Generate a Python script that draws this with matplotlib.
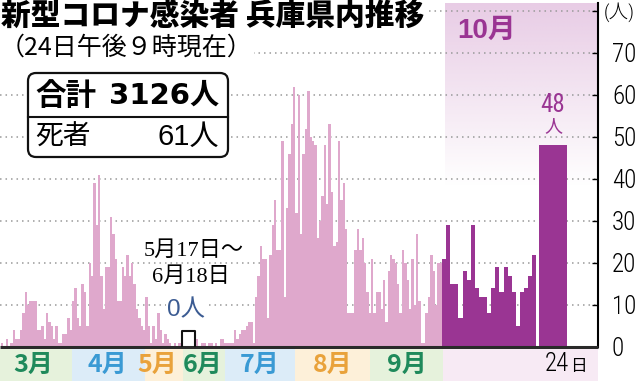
import numpy as np
import matplotlib
matplotlib.use('Agg')
import matplotlib.pyplot as plt
from matplotlib import font_manager as fm
from matplotlib.patches import Rectangle, FancyBboxPatch

# ---------------- data ----------------
# daily new cases, Mar 1 - May 16
first_wave = [1, 0, 2, 0, 1, 4, 2, 2, 4, 8, 13, 10, 11, 11, 11, 4, 4, 5, 2, 8, 6, 5, 2, 5, 1, 1, 3, 3, 7, 4, 11,
              14, 7, 5, 15, 13, 5, 20, 17, 39, 29, 41, 17, 9, 19, 19, 31, 27, 21, 11, 11, 19, 17, 22, 17, 20, 15, 9, 7, 5, 4,
              12, 5, 1, 5, 2, 8, 4, 1, 3, 2, 1, 0, 1, 0, 1, 0]
# daily new cases, Jun 19 - Sep 30  (May 17 - Jun 18: 0 cases, compressed)
second_wave = [2, 0, 1, 1, 0, 1, 1, 0, 1, 0,
               2, 2, 1, 1, 1, 1, 4, 2, 3, 4, 4, 5, 6, 6,
               1, 12, 17, 24, 21, 21, 7, 22, 29, 35, 23, 23, 49, 12, 33, 46, 53, 62, 32,
               60, 27, 46, 52, 61, 50, 49, 48, 26, 30, 36, 48, 34, 53, 37, 24, 25, 49, 35, 39, 28,
               8, 8, 8, 23, 28, 23, 26, 20, 13, 8, 21, 8, 13, 13, 9, 16, 6, 18, 22, 21, 20, 15, 8, 23, 20,
               16, 9, 21, 10, 27, 11, 1, 1, 8, 12, 22, 18, 10, 20, 20]
# October 1 - 23
october = [21, 29, 15, 15, 7, 18, 16, 29, 14, 12, 12, 8, 14, 19, 13, 19, 17, 13, 5, 13, 14, 17, 22]
latest = 48          # Oct 24
total = 3126
deaths = 61
months = ['3月', '4月', '5月', '6月', '7月', '8月', '9月']
y_ticks = [0, 10, 20, 30, 40, 50, 60, 70]
y_ticklabels = ['0', '10', '20', '30', '40', '50', '60', '70']

# ---------------- style / layout ----------------
W, H = 639, 381
PINK = '#dfa8cc'
PURPLE = '#9a3593'
GREEN, BLUE, ORANGE = '#1f8a5b', '#3a9ad4', '#e9a23b'
BAND_G, BAND_B, BAND_O, BAND_P = '#e6f2dc', '#dcecf8', '#fdf0d9', '#f7eaf4'

JP = 'Noto Sans CJK JP'
plt.rcParams['font.family'] = [JP, 'DejaVu Sans']

# condensed face for the numerals
names = {f.name for f in fm.fontManager.ttflist}
NUM = 'Liberation Sans'
for cand in ['Roboto Condensed', 'IBM Plex Sans Condensed', 'Fira Sans Condensed',
             'Barlow Semi Condensed', 'Encode Sans Condensed', 'Archivo Narrow']:
    if cand in names:
        NUM = cand
        break

fig = plt.figure(figsize=(W / 100, H / 100), dpi=100)

# plot area in pixel coordinates
AX_L, AX_R = 0, 598
BASE_Y = 347
PX_PER_CASE = 4.2
YMAX = 82
top_px = BASE_Y - YMAX * PX_PER_CASE
ax = fig.add_axes([AX_L / W, 1 - BASE_Y / H, (AX_R - AX_L) / W, (BASE_Y - top_px) / H])
ax.set_facecolor('none')

# x layout (pixel units)
DAY_W = 2.365
X_FIRST = 1.0
X_SECOND = 196.0
X_OCT = 442.0
OCT_W = 4.1
X_LAST, LAST_W = 539.0, 28.0

# October highlight gradient
grad = np.zeros((100, 1, 4))
grad[:, 0, 0:3] = (0.91, 0.80, 0.90)
grad[:, 0, 3] = np.linspace(1.0, 0.0, 100)
ax.imshow(grad, extent=[445, AX_R, 38, YMAX], aspect='auto', zorder=0.2, interpolation='bilinear')

# dotted grid
for v in y_ticks[1:] + [80]:
    ax.plot([AX_L, AX_R], [v, v], color='#9a9a9a', lw=1.1, ls=(0, (1, 2.6)), zorder=0.5)

x1 = X_FIRST + DAY_W * np.arange(len(first_wave))
x2 = X_SECOND + DAY_W * np.arange(len(second_wave))
x3 = X_OCT + OCT_W * np.arange(len(october))
ax.bar(x1, first_wave, width=DAY_W + 0.05, align='edge', color=PINK, lw=0, zorder=2)
ax.bar(x2, second_wave, width=DAY_W + 0.05, align='edge', color=PINK, lw=0, zorder=2)
ax.bar(x3, october, width=OCT_W + 0.05, align='edge', color=PURPLE, lw=0, zorder=2)
ax.bar([X_LAST], [latest], width=LAST_W, align='edge', color=PURPLE, lw=0, zorder=2)

ax.plot([AX_L, AX_R], [0, 0], color='#2a2a2a', lw=2.2, zorder=3, clip_on=False, solid_capstyle='butt')

ax.set_xlim(AX_L, AX_R)
ax.set_ylim(0, YMAX)
for s in ['left', 'top', 'bottom']:
    ax.spines[s].set_visible(False)
ax.spines['right'].set_linewidth(1.5)
ax.set_xticks([])
ax.yaxis.tick_right()
ax.set_yticks(y_ticks + [80])
ax.set_yticklabels(y_ticklabels + [''])
ax.tick_params(axis='y', direction='in', length=4, width=1, pad=10, labelsize=18)
for t in ax.get_yticklabels():
    t.set_fontfamily(NUM)
    t.set_fontweight('light')

# overlay in pixel coords
ov = fig.add_axes([0, 0, 1, 1], zorder=5)
ov.set_xlim(0, W)
ov.set_ylim(H, 0)
ov.axis('off')
ov.patch.set_visible(False)

WB = dict(facecolor='white', edgecolor='none', pad=1)

ov.text(619, 12, '(人)', ha='center', va='center', fontsize=14, family=[NUM, JP], weight='light')

# title
ov.text(1, 17, '新型コロナ感染者 兵庫県内推移', ha='left', va='center', fontsize=21.4,
        fontweight='heavy', bbox=dict(facecolor='white', edgecolor='none', pad=2))
ov.text(0, 48, '（24日午後９時現在）', ha='left', va='center', fontsize=18,
        bbox=dict(facecolor='white', edgecolor='none', pad=1))

# summary box
box = FancyBboxPatch((28, 73), 200, 84, boxstyle='round,pad=0,rounding_size=8',
                     facecolor='white', edgecolor='#111111', lw=1.6, zorder=2)
ov.add_patch(box)
ov.plot([28, 228], [117, 117], color='#111111', lw=1.5, zorder=3)
ov.text(35, 96, '合計', ha='left', va='center', fontsize=22, fontweight='bold', zorder=4)
ov.text(219, 96, f'{total}人', ha='right', va='center', fontsize=21, fontweight='bold',
        family=['DejaVu Sans', JP], zorder=4)
ov.text(35, 137, '死者', ha='left', va='center', fontsize=20, zorder=4)
ov.text(219, 137, f'{deaths}人', ha='right', va='center', fontsize=21,
        family=['Liberation Sans', JP], zorder=4)

# zero-period annotation
ov.text(194, 251, '5月17日～', ha='center', va='center', fontsize=16,
        family=['Liberation Serif', JP], bbox=WB)
ov.text(191, 277, '6月18日', ha='center', va='center', fontsize=16,
        family=['Liberation Serif', JP], bbox=WB)
ov.text(186, 310, '0人', ha='center', va='center', fontsize=17.5, color='#3b5b92',
        family=['Liberation Sans', JP], bbox=WB)
ov.plot([182, 182, 195, 195], [346, 331, 331, 346], color='#111111', lw=1.5)

# October labels
ov.text(487, 31, '10月', ha='center', va='center', fontsize=20, fontweight='bold', color=PURPLE,
        family=['Liberation Sans', JP])
ov.text(553, 105, str(latest), ha='center', va='center', fontsize=18, color=PURPLE, family=NUM)
ov.text(553, 126, '人', ha='center', va='center', fontsize=13, color=PURPLE)

# bottom month bands and labels
bands = [(0, 72, BAND_G), (72, 145, BAND_B), (145, 183, BAND_O), (183, 225, BAND_G),
         (225, 295, BAND_B), (295, 370, BAND_O), (370, 443, BAND_G), (443, 598, BAND_P)]
for a, b, c in bands:
    ov.add_patch(Rectangle((a, 349), b - a, H - 349, facecolor=c, lw=0, zorder=0))
centers = [33, 107, 157, 203, 260, 333, 407]
colors = [GREEN, BLUE, ORANGE, GREEN, BLUE, ORANGE, GREEN]
for m, cx, c in zip(months, centers, colors):
    ov.text(cx, 365, m, ha='center', va='center', fontsize=18, fontweight='bold', color=c)

ov.text(569, 364, '24', ha='right', va='center', fontsize=18, family=NUM, weight='light')
ov.text(570, 367, '日', ha='left', va='center', fontsize=12)

fig.savefig('out.png', dpi=100)
